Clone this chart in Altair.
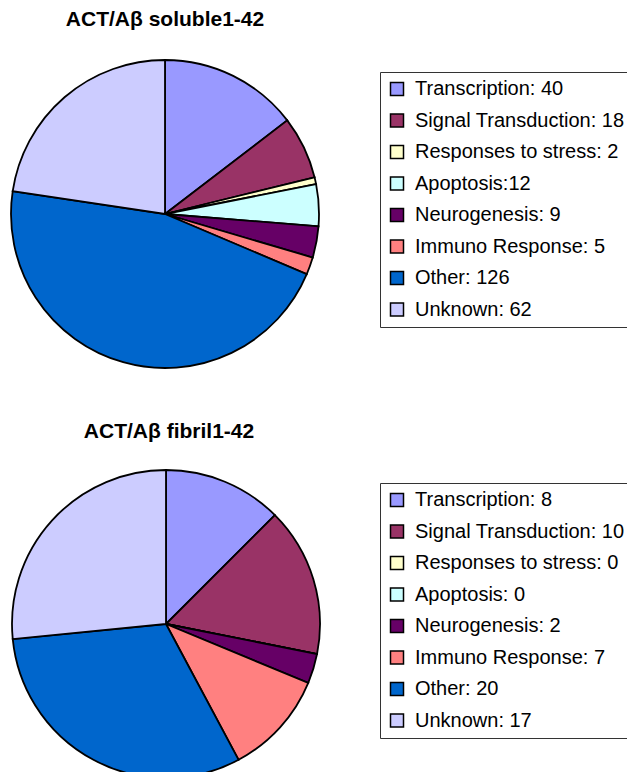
import altair as alt
import pandas as pd

categories = ["Transcription", "Signal Transduction", "Responses to stress", "Apoptosis",
              "Neurogenesis", "Immuno Response", "Other", "Unknown"]
colors = ["#9999FF", "#993366", "#FFFFCC", "#CCFFFF", "#660066", "#FF8080", "#0066CC", "#CCCCFF"]

title1 = "ACT/A\u03b2 soluble1-42"
labels1 = ["Transcription: 40", "Signal Transduction: 18", "Responses to stress: 2", "Apoptosis:12",
           "Neurogenesis: 9", "Immuno Response: 5", "Other: 126", "Unknown: 62"]
values1 = [40, 18, 2, 12, 9, 5, 126, 62]

title2 = "ACT/A\u03b2 fibril1-42"
labels2 = ["Transcription: 8", "Signal Transduction: 10", "Responses to stress: 0", "Apoptosis: 0",
           "Neurogenesis: 2", "Immuno Response: 7", "Other: 20", "Unknown: 17"]
values2 = [8, 10, 0, 0, 2, 7, 20, 17]

FONT = "Liberation Sans"

df1 = pd.DataFrame({"cat": categories, "label": labels1, "value": values1, "idx": list(range(8))})
df2 = pd.DataFrame({"cat": categories, "label": labels2, "value": values2, "idx": list(range(8))})


def legend(x, y):
    return alt.Legend(
        title=None, orient="none", legendX=x, legendY=y,
        strokeColor="#333333", fillColor="white", padding=7,
        symbolType="square", symbolSize=169, symbolStrokeColor="black",
        symbolStrokeWidth=1.5, symbolOpacity=1,
        labelFont=FONT, labelFontSize=20, labelColor="black", labelLimit=500,
        labelOffset=8, rowPadding=11.5,
        labelExpr="datum.label + '\u00a0\u00a0\u00a0\u00a0\u00a0\u00a0\u00a0\u00a0\u00a0'",
    )


def pie(df, labels, cx, cy, lx, ly):
    return alt.Chart(df).mark_arc(radius=154, stroke="black", strokeWidth=1.8).encode(
        theta=alt.Theta("value:Q", stack=True),
        order=alt.Order("idx:Q"),
        color=alt.Color("label:N", scale=alt.Scale(domain=labels, range=colors),
                        sort=labels, legend=legend(lx, ly)),
        x=alt.value(cx),
        y=alt.value(cy),
    )


def title_text(txt, cx, cy):
    return alt.Chart(pd.DataFrame({"t": [txt]})).mark_text(
        font=FONT, fontSize=21, fontWeight="bold", color="black",
        align="center", baseline="alphabetic",
    ).encode(text="t:N", x=alt.value(cx), y=alt.value(cy))


chart = alt.layer(
    pie(df1, labels1, 157, 206, 372, 64),
    pie(df2, labels2, 158, 616, 372, 475),
    title_text(title1, 157, 18),
    title_text(title2, 161, 430),
).resolve_scale(
    theta="independent", color="independent"
).resolve_legend(
    color="independent"
).properties(
    width=619, height=764, padding=0, autosize=alt.AutoSizeParams(type="none")
).configure_view(stroke=None)

chart.save("out.html", embed_options={"renderer": "svg", "actions": False})
